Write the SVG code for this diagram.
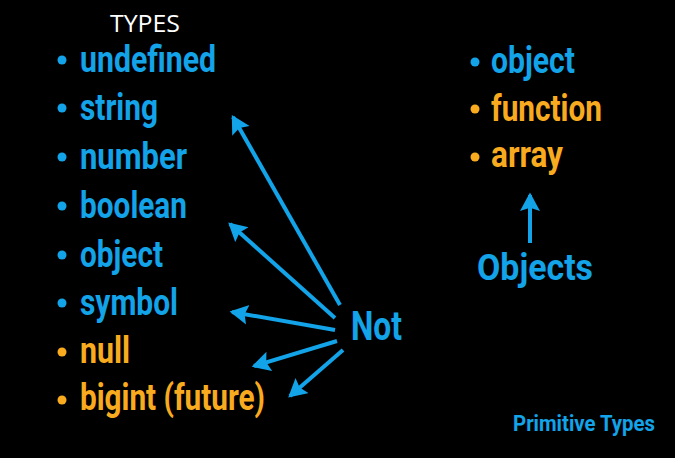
<svg xmlns="http://www.w3.org/2000/svg" width="675" height="458" viewBox="0 0 675 458">
<style>
.t{font-family:Roboto,"Liberation Sans",sans-serif;font-weight:bold;font-size:37px}
.b{fill:#12a3e8}
.o{fill:#f9ab1f}
.c{stroke:#12a3e8;stroke-width:4;fill:none}
</style>
<defs>
<marker id="ah" markerWidth="6" markerHeight="6" refX="4" refY="2.5" orient="auto" markerUnits="strokeWidth">
<path d="M0,0 L4.6,2.5 L0,5 L0.8,2.5 Z" fill="#12a3e8"/>
</marker>
</defs>
<rect width="675" height="458" fill="#000"/>
<text x="110" y="32" font-family="'Open Sans','Liberation Sans',sans-serif" font-size="24" fill="#fff" textLength="70" lengthAdjust="spacingAndGlyphs">TYPES</text>
<g id="primitives">
<g id="undefined"><circle cx="62" cy="60" r="4.5" class="b"/><text class="t b" x="80" y="72" textLength="136" lengthAdjust="spacingAndGlyphs">undefined</text></g>
<g id="string"><circle cx="62" cy="108" r="4.5" class="b"/><text class="t b" x="80" y="120" textLength="78" lengthAdjust="spacingAndGlyphs">string</text></g>
<g id="number"><circle cx="62" cy="157" r="4.5" class="b"/><text class="t b" x="80" y="169" textLength="107" lengthAdjust="spacingAndGlyphs">number</text></g>
<g id="boolean"><circle cx="62" cy="206" r="4.5" class="b"/><text class="t b" x="80" y="218" textLength="107" lengthAdjust="spacingAndGlyphs">boolean</text></g>
<g id="object"><circle cx="62" cy="255" r="4.5" class="b"/><text class="t b" x="80" y="267" textLength="83" lengthAdjust="spacingAndGlyphs">object</text></g>
<g id="symbol"><circle cx="62" cy="303" r="4.5" class="b"/><text class="t b" x="80" y="315" textLength="98" lengthAdjust="spacingAndGlyphs">symbol</text></g>
<g id="null"><circle cx="62" cy="352" r="4.5" class="o"/><text class="t o" x="80" y="363" textLength="50" lengthAdjust="spacingAndGlyphs">null</text></g>
<g id="bigint"><circle cx="62" cy="400" r="4.5" class="o"/><text class="t o" x="80" y="410" textLength="185" lengthAdjust="spacingAndGlyphs">bigint (future)</text></g>
</g>
<g id="objects-list">
<g id="r-object"><circle cx="475" cy="62" r="4.5" class="b"/><text class="t b" x="491" y="73" textLength="84" lengthAdjust="spacingAndGlyphs">object</text></g>
<g id="r-function"><circle cx="475" cy="109" r="4.5" class="o"/><text class="t o" x="491" y="121" textLength="111" lengthAdjust="spacingAndGlyphs">function</text></g>
<g id="r-array"><circle cx="475" cy="157" r="4.5" class="o"/><text class="t o" x="491" y="167" textLength="72" lengthAdjust="spacingAndGlyphs">array</text></g>
</g>
<g id="not"><text x="351" y="340" font-family="Roboto,'Liberation Sans',sans-serif" font-weight="bold" font-size="40" class="b" textLength="51" lengthAdjust="spacingAndGlyphs">Not</text></g>
<g id="objects-label"><text x="477" y="280" font-family="Roboto,'Liberation Sans',sans-serif" font-weight="bold" font-size="36" class="b" textLength="116" lengthAdjust="spacingAndGlyphs">Objects</text></g>
<g id="primitive-types"><text x="513" y="431" font-family="Roboto,'Liberation Sans',sans-serif" font-weight="bold" font-size="22" class="b" textLength="142" lengthAdjust="spacingAndGlyphs">Primitive Types</text></g>
<g id="connectors">
<line class="c" x1="340" y1="305" x2="233" y2="117" marker-end="url(#ah)"/>
<line class="c" x1="335" y1="318" x2="230" y2="224" marker-end="url(#ah)"/>
<line class="c" x1="335" y1="330" x2="232" y2="312" marker-end="url(#ah)"/>
<line class="c" x1="337" y1="341" x2="254" y2="366" marker-end="url(#ah)"/>
<line class="c" x1="343" y1="350" x2="290" y2="396" marker-end="url(#ah)"/>
<line class="c" x1="530" y1="243" x2="530" y2="195" marker-end="url(#ah)"/>
</g>
</svg>
